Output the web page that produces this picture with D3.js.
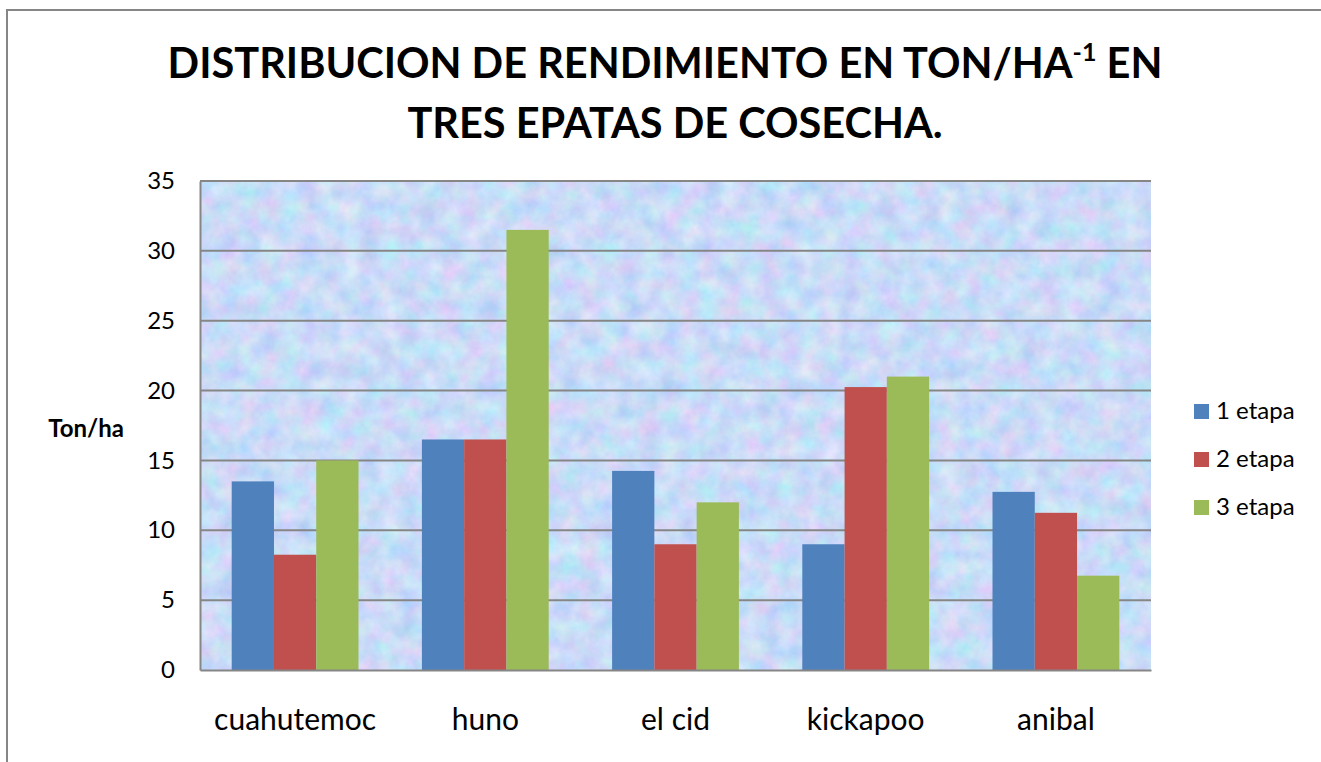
<!DOCTYPE html>
<html><head><meta charset="utf-8">
<script src="https://cdn.jsdelivr.net/npm/d3@7"></script>
<style>
html,body{margin:0;padding:0;background:#fff;}
svg{display:block;font-family:Lato,"Open Sans",sans-serif;}
</style></head>
<body><svg id="c" width="1321" height="762"></svg>
<script>
const categories = ["cuahutemoc","huno","el cid","kickapoo","anibal"];
const seriesNames = ["1 etapa","2 etapa","3 etapa"];
const etapa1 = [13.5, 16.5, 14.25, 9.0, 12.75];
const etapa2 = [8.25, 16.5, 9.0, 20.25, 11.25];
const etapa3 = [15.0, 31.5, 12.0, 21.0, 6.75];
const yTicks = [0,5,10,15,20,25,30,35];
const colors = ["#4f81bd","#c0504d","#9bbb59"];
const series = [etapa1, etapa2, etapa3];

const svg = d3.select("#c");
const defs = svg.append("defs");
const f = defs.append("filter").attr("id","tex").attr("x",0).attr("y",0).attr("width","100%").attr("height","100%")
  .attr("color-interpolation-filters","sRGB");
f.append("feTurbulence").attr("type","fractalNoise").attr("baseFrequency","0.05").attr("numOctaves",4).attr("seed",7).attr("result","n");
f.append("feColorMatrix").attr("in","n").attr("type","matrix")
 .attr("values","0.3 0 0 0 0.64  0 0.2 0 0 0.76  0 0 0.08 0 0.93  0 0 0 0 1");

// outer border
svg.append("rect").attr("x",7).attr("y",10).attr("width",1330).attr("height",800)
  .attr("fill","#fff").attr("stroke","#868686").attr("stroke-width",2);

const m = {l:200, r:1151, t:181, b:670};
const x0 = d3.scaleBand().domain(categories).range([m.l, m.r]).padding(0);
const bw = x0.step()/4.5;
const x1 = d3.scaleBand().domain(seriesNames).range([ (x0.step()-3*bw)/2, (x0.step()+3*bw)/2 ]).padding(0);
const y = d3.scaleLinear().domain([0,35]).range([m.b, m.t]);

svg.append("rect").attr("x",m.l).attr("y",m.t).attr("width",m.r-m.l).attr("height",m.b-m.t)
  .attr("filter","url(#tex)");

// gridlines
svg.append("g").selectAll("line").data(yTicks.filter(d=>d>0)).join("line")
  .attr("x1",m.l).attr("x2",m.r).attr("y1",d=>y(d)).attr("y2",d=>y(d))
  .attr("stroke","#868686").attr("stroke-width",2);

// bars
const g = svg.append("g");
series.forEach((s,si)=>{
  g.selectAll(null).data(categories).join("rect")
   .attr("x",c=>x0(c)+x1(seriesNames[si]))
   .attr("width",x1.bandwidth())
   .attr("y",(c,i)=>y(s[i]))
   .attr("height",(c,i)=>y(0)-y(s[i]))
   .attr("fill",colors[si]);
});

// y axis
const ya = svg.append("g").attr("transform",`translate(${m.l},0)`)
  .call(d3.axisLeft(y).tickValues(yTicks).tickSize(0).tickPadding(25));
ya.select(".domain").attr("stroke","#868686").attr("stroke-width",2);
ya.selectAll("text").attr("font-size",24).attr("fill","#000").attr("font-family","Lato,sans-serif");

// x axis
const xa = svg.append("g").attr("transform",`translate(0,${m.b})`)
  .call(d3.axisBottom(x0).tickSize(0).tickPadding(39));
xa.select(".domain").attr("stroke","#868686").attr("stroke-width",2);
xa.selectAll("text").attr("font-size",30).attr("fill","#000").attr("font-family","Lato,sans-serif");

// y label
svg.append("text").attr("x",86).attr("y",437).attr("text-anchor","middle")
  .attr("font-size",24).attr("font-weight","bold").text("Ton/ha");

// title
const t1 = svg.append("text").attr("x",665).attr("y",78).attr("text-anchor","middle")
  .attr("font-size",41.5).attr("font-weight","bold");
t1.append("tspan").text("DISTRIBUCION DE RENDIMIENTO EN TON/HA");
t1.append("tspan").attr("font-size",25).attr("dy",-17).text("-1");
t1.append("tspan").attr("dy",17).text(" EN");
svg.append("text").attr("x",675).attr("y",138).attr("text-anchor","middle")
  .attr("font-size",41.5).attr("font-weight","bold").text("TRES EPATAS DE COSECHA.");

// legend
const lg = svg.append("g");
seriesNames.forEach((n,i)=>{
  const cy = 411 + i*48;
  lg.append("rect").attr("x",1194).attr("y",cy-7).attr("width",15).attr("height",15).attr("fill",colors[i]);
  lg.append("text").attr("x",1216).attr("y",cy+8).attr("font-size",24).text(n);
});
</script></body></html>
